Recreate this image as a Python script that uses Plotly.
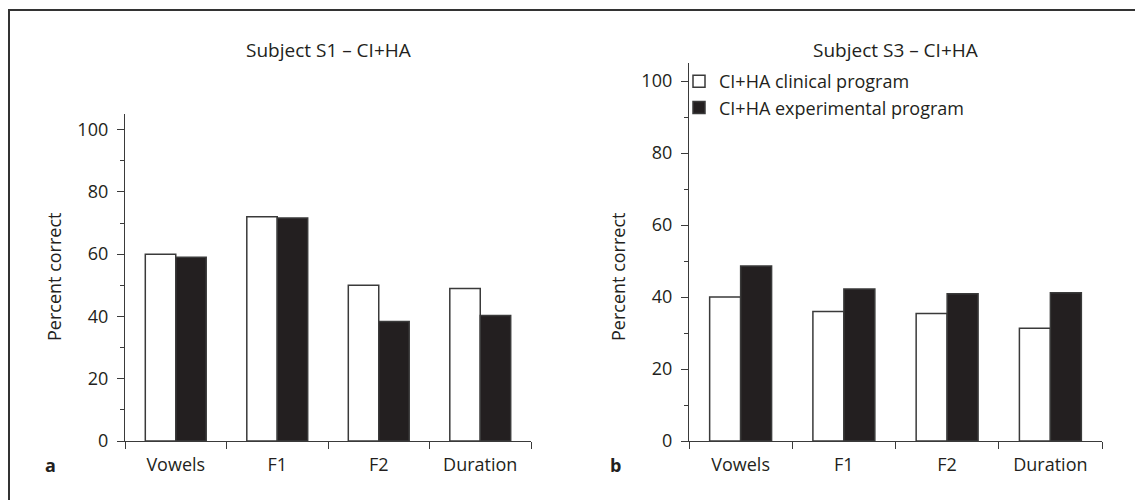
import plotly.graph_objects as go

categories = ["Vowels", "F1", "F2", "Duration"]

# Subject S1 - CI+HA (panel a)
s1_clinical = [60, 72, 50, 49]
s1_experimental = [59, 71.6, 38.4, 40.3]

# Subject S3 - CI+HA (panel b)
s3_clinical = [40, 36, 35.4, 31.3]
s3_experimental = [48.6, 42.2, 40.9, 41.2]

W, H = 1143, 500
OFF = 8  # page body margin
FONT = "Open Sans"
INK = "#231f20"
EDGE = "#3a3a3a"


def px_x(p):
    return (p - OFF) / W


def px_y(p):
    return 1 - (p - OFF) / H


fig = go.Figure()

# panel a
fig.add_trace(go.Bar(x=categories, y=s1_clinical, xaxis="x", yaxis="y",
                     marker=dict(color="white", line=dict(color=EDGE, width=1.5)),
                     name="CI+HA clinical program", showlegend=False))
fig.add_trace(go.Bar(x=categories, y=s1_experimental, xaxis="x", yaxis="y",
                     marker=dict(color=INK, line=dict(color=EDGE, width=1.5)),
                     name="CI+HA experimental program", showlegend=False))

# panel b
fig.add_trace(go.Bar(x=categories, y=s3_clinical, xaxis="x2", yaxis="y2",
                     marker=dict(color="white", line=dict(color=EDGE, width=1.5)),
                     name="CI+HA clinical program"))
fig.add_trace(go.Bar(x=categories, y=s3_experimental, xaxis="x2", yaxis="y2",
                     marker=dict(color=INK, line=dict(color=EDGE, width=1.5)),
                     name="CI+HA experimental program"))

xcommon = dict(
    type="category", range=[-0.5, 3.5], tickson="boundaries",
    ticks="outside", ticklen=7, tickwidth=1.3, tickcolor=EDGE,
    ticklabelstandoff=7,
    showline=True, linecolor=EDGE, linewidth=1.3,
    showgrid=False, zeroline=False, automargin=False,
    tickfont=dict(family=FONT, size=18, color=INK), fixedrange=True,
)
ycommon = dict(
    range=[0, 105], tickvals=[0, 20, 40, 60, 80, 100],
    ticks="outside", ticklen=7, tickwidth=1.3, tickcolor=EDGE,
    ticklabelstandoff=5,
    minor=dict(tickvals=[10, 30, 50, 70, 90], ticks="outside", ticklen=4,
               tickwidth=1.3, tickcolor=EDGE, showgrid=False),
    showline=True, linecolor=EDGE, linewidth=1.3,
    showgrid=False, zeroline=False, automargin=False,
    tickfont=dict(family=FONT, size=18, color=INK), fixedrange=True,
)

fig.update_layout(
    width=W, height=H,
    margin=dict(l=0, r=0, t=0, b=0),
    paper_bgcolor="white", plot_bgcolor="white",
    barmode="group", bargap=0.4, bargroupgap=0,
    font=dict(family=FONT, size=18, color=INK),
    xaxis=dict(xcommon, domain=[px_x(125), px_x(531)], anchor="y"),
    yaxis=dict(ycommon, domain=[px_y(441), px_y(114)], anchor="x"),
    xaxis2=dict(xcommon, domain=[px_x(689), px_x(1102)], anchor="y2"),
    yaxis2=dict(ycommon, domain=[px_y(441), px_y(63)], anchor="x2"),
    legend=dict(x=px_x(679), y=px_y(63), xanchor="left", yanchor="top",
                bgcolor="rgba(0,0,0,0)", tracegroupgap=0,
                font=dict(family=FONT, size=18, color=INK)),
    showlegend=True,
)

annotations = [
    dict(text="Subject S1 – CI+HA", x=px_x(328), y=px_y(50), size=19),
    dict(text="Subject S3 – CI+HA", x=px_x(895), y=px_y(50), size=19),
    dict(text="Percent correct", x=px_x(54), y=px_y(277), textangle=-90),
    dict(text="Percent correct", x=px_x(618), y=px_y(277), textangle=-90),
    dict(text="<b>a</b>", x=px_x(50), y=px_y(465)),
    dict(text="<b>b</b>", x=px_x(615), y=px_y(465)),
]
for a in annotations:
    size = a.pop("size", 18)
    fig.add_annotation(xref="paper", yref="paper", showarrow=False,
                       xanchor="center", yanchor="middle",
                       font=dict(family=FONT, size=size, color=INK), **a)

# outer frame
fig.add_shape(type="rect", xref="paper", yref="paper",
              x0=px_x(9), x1=px_x(1137), y0=-0.1, y1=px_y(10),
              line=dict(color="#333333", width=2))

fig.write_html("out.html")
